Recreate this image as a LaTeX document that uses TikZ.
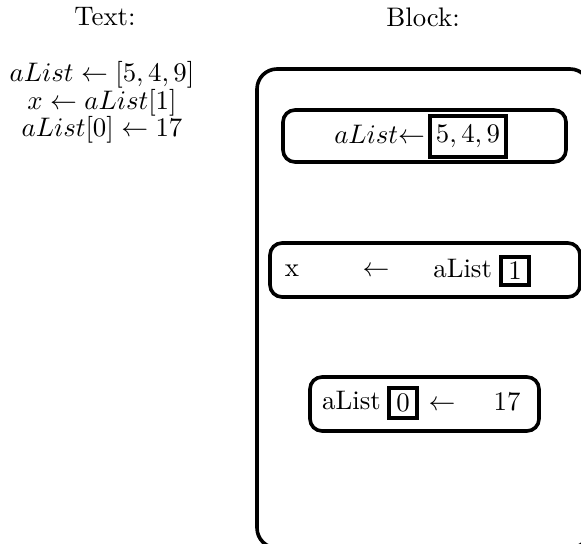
\documentclass[tikz,border=0pt]{standalone}
\usetikzlibrary{positioning}
\newcommand{\pxl}{0.373pt}
\tikzset{
    stmt/.style={draw, line width=1.35pt, rounded corners=4.5pt, inner sep=0pt},
    slot/.style={draw, line width=1.35pt, inner sep=0pt},
    word/.style={inner sep=0pt, text height=6.9pt, text depth=1.9pt},
}
\begin{document}
\begin{tikzpicture}[x=\pxl, y=-\pxl]
    \useasboundingbox (0,0) rectangle (581,544);
    % headings
    \node (texthead) at (105,17) {Text:};
    \node (blockhead) at (423,17) {Block:};
    % the program, written out
    \node[word] (lineA) at (102,75) {$aList \leftarrow [5,4,9]$};
    \node[word] (lineB) at (102,103) {$x \leftarrow aList[1]$};
    \node[word] (lineC) at (102,130) {$aList[0] \leftarrow 17$};
    % the program, as blocks
    \node[stmt, rounded corners=7.5pt, minimum width=333*\pxl, minimum height=479*\pxl] (frame) at (423.5,308.5) {};
    \node[stmt, minimum width=283*\pxl, minimum height=52*\pxl] (stmtA) at (424.5,136) {};
    \node[slot, minimum width=76*\pxl, minimum height=41*\pxl] (valA) at (468,136.5) {$5,4,9$};
    \node[word, left=1pt of valA] (nameA) {$aList{\leftarrow}$};
    \node[stmt, minimum width=310*\pxl, minimum height=54*\pxl] (stmtB) at (425,270) {};
    \node[word] (varB) at (292,270) {x};
    \node[word] (arrB) at (376,270) {$\leftarrow$};
    \node[slot, minimum width=28*\pxl, minimum height=28*\pxl] (idxB) at (515,271) {1};
    \node[word, left=2.5pt of idxB] (nameB) {aList};
    \node[stmt, minimum width=229*\pxl, minimum height=54*\pxl] (stmtC) at (424.5,404) {};
    \node[slot, minimum width=28*\pxl, minimum height=30*\pxl] (idxC) at (403,403) {0};
    \node[word, left=2.2pt of idxC] (nameC) {aList};
    \node[word] (arrC) at (442,404) {$\leftarrow$};
    \node[word] (valC) at (507,404) {17};
\end{tikzpicture}
\end{document}
